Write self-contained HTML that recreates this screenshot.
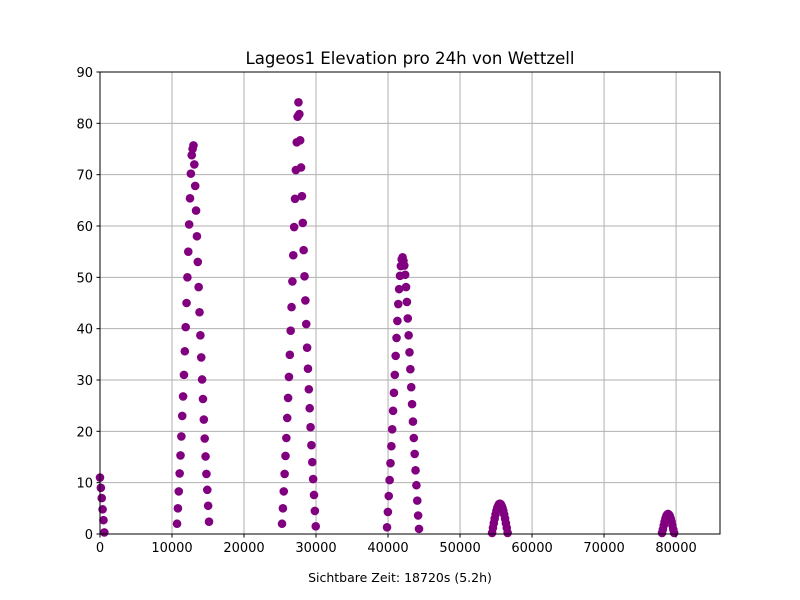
<!DOCTYPE html>
<html><head><meta charset="utf-8"><style>
body{margin:0;background:#fff;}
svg{display:block;font-family:"DejaVu Sans","Liberation Sans",sans-serif;}
</style></head><body>
<svg id="chart" width="800" height="600" viewBox="0 0 800 600">
<rect width="800" height="600" fill="#fff"/>
<g id="grid"></g>
<g id="points"></g>
<rect x="100" y="72" width="620" height="462" fill="none" stroke="#000" stroke-width="1"/>
<g id="ticks"></g>
<text x="410" y="64" font-size="16.6" text-anchor="middle">Lageos1 Elevation pro 24h von Wettzell</text>
<text x="400" y="582" font-size="12.5" text-anchor="middle">Sichtbare Zeit: 18720s (5.2h)</text>
</svg>
<script>
const passStarts=[0,10700,25280,39860,54450,78050];
const passStep=120;
const pass0=[11,9,7,4.8,2.7,0.3];
const pass1=[2,5,8.3,11.8,15.3,19,23,26.8,31,35.6,40.3,45,50,55,60.3,65.4,70.2,73.8,75,75.7,72,67.8,63,58,53,48.1,43.2,38.7,34.4,30.1,26.3,22.3,18.6,15.1,11.7,8.6,5.5,2.4];
const pass2=[2,5,8.3,11.7,15.2,18.7,22.6,26.5,30.6,34.9,39.6,44.2,49.2,54.3,59.8,65.3,70.9,76.3,81.3,84.1,81.8,76.7,71.4,65.8,60.6,55.3,50.2,45.5,40.9,36.3,32.2,28.2,24.5,20.8,17.3,14,10.7,7.6,4.5,1.5];
const pass3=[1.3,4.3,7.4,10.5,13.8,17.1,20.4,24,27.5,31,34.7,38.2,41.5,44.8,47.7,50.3,52.2,53.5,53.9,53.2,52.3,50.5,48.1,45.2,42,38.7,35.4,32.1,28.6,25.3,21.9,18.7,15.6,12.4,9.5,6.5,3.6,1.0];
const pass4=[0.2,1.2,2.1,3.0,3.8,4.5,5.1,5.5,5.8,5.9,5.8,5.5,5.1,4.5,3.8,3.0,2.1,1.2,0.2];
const pass5=[0.2,0.9,1.7,2.4,3.0,3.5,3.8,3.9,3.8,3.5,3.0,2.4,1.7,0.9,0.2];
const passes=[pass0,pass1,pass2,pass3,pass4,pass5];
const xTicks=[0,10000,20000,30000,40000,50000,60000,70000,80000];
const yTicks=[0,10,20,30,40,50,60,70,80,90];
const X0=100,X1=720,Y0=534,Y1=72,xMax=86100,yMax=90;
const sx=v=>X0+v/xMax*(X1-X0);
const sy=v=>Y0-v/yMax*(Y0-Y1);
const NS="http://www.w3.org/2000/svg";
const grid=document.getElementById('grid'),tk=document.getElementById('ticks'),pts=document.getElementById('points');
function mk(tag,attrs,parent){const e=document.createElementNS(NS,tag);for(const k in attrs)e.setAttribute(k,attrs[k]);parent.appendChild(e);return e;}
xTicks.forEach(t=>{const x=sx(t);
 let g=mk('line',{x1:x,x2:x,y1:Y1,y2:Y0,stroke:'#b0b0b0','stroke-width':1},grid);
 
 
 mk('line',{x1:x,x2:x,y1:Y0,y2:Y0+3.5,stroke:'#000'},tk);
 let l=mk('text',{x:x,y:Y0+18,'font-size':13,'text-anchor':'middle'},tk);l.textContent=t;
 
 
});
yTicks.forEach(t=>{const y=sy(t);
 let g=mk('line',{x1:X0,x2:X1,y1:y,y2:y,stroke:'#b0b0b0','stroke-width':1},grid);
 
 
 mk('line',{x1:X0-3.5,x2:X0,y1:y,y2:y,stroke:'#000'},tk);
 let l=mk('text',{x:X0-7,y:y+5,'font-size':13,'text-anchor':'end'},tk);l.textContent=t;
 
 
});
passes.forEach((p,pi)=>{p.forEach((v,i)=>{
 const c=mk('circle',{cx:sx(passStarts[pi]+i*passStep),cy:sy(v),r:4.3,fill:'#800080'},pts);
 
 
});});
</script>
</body></html>
